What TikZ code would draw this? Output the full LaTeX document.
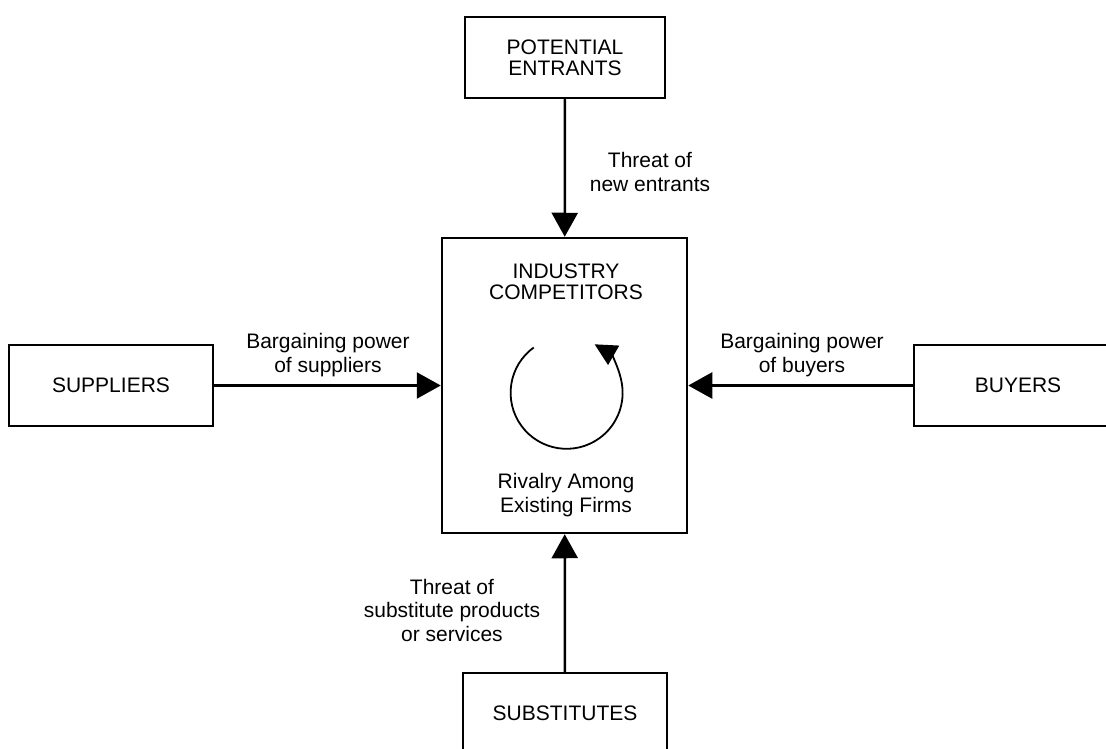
\documentclass[tikz,border=0pt]{standalone}
\usepackage{fontspec}
\setmainfont{Liberation Sans}
\usepackage{tikz}
\usetikzlibrary{arrows.meta,positioning}

\begin{document}
\begin{tikzpicture}[x=1pt,y=-1pt,
    forcebox/.style={draw,line width=2.5pt,minimum width=#1,minimum height=81pt,
                     inner sep=0pt,align=center,font=\fontsize{21}{21}\selectfont},
    forcebox/.default=204pt,
    forcelbl/.style={align=center,font=\fontsize{21}{23.5}\selectfont},
    pousse/.style={line width=2.5pt,-{Triangle[length=24pt,width=26pt]}}]
  \useasboundingbox (0,0) rectangle (1106,749);
  % centre : concurrents du secteur
  \node[forcebox=245pt,minimum height=295pt] (rivalite) at (564.5,385.5) {};
  \node[font=\fontsize{21}{21}\selectfont,align=center] (secteur) at (566,282) {INDUSTRY\\COMPETITORS};
  \node[forcelbl] (rivtxt) at (566,495) {Rivalry Among\\Existing Firms};
  \coordinate (boucle) at (533.7,347.5);
  \draw[line width=1.8pt,-{Triangle[length=22pt,width=22pt]}]
    (boucle) arc[start angle=126,end angle=420,radius=56pt];
  % les quatre forces autour
  \node[forcebox=200pt] (entrants) at (565,57.5) {POTENTIAL\\ENTRANTS};
  \node[forcebox] (fournis) at (111,385.5) {SUPPLIERS};
  \node[forcebox=208pt] (acheteurs) at (1018,385.5) {BUYERS};
  \node[forcebox] (substituts) at (565,713.5) {SUBSTITUTES};
  \draw[pousse] (entrants) -- (rivalite);
  \draw[pousse] (fournis) -- (rivalite);
  \draw[pousse] (acheteurs) -- (rivalite);
  \draw[pousse] (substituts) -- (rivalite);
  % etiquettes des fleches
  \node[forcelbl] (menace) at (650,172) {Threat of\\new entrants};
  \node[forcelbl] (pouvfourn) at (328,355) {Bargaining power\\of suppliers};
  \node[forcelbl] (pouvach) at (802,355) {Bargaining power\\of buyers};
  \node[forcelbl] (menacesub) at (452,610) {Threat of\\substitute products\\or services};
\end{tikzpicture}
\end{document}
